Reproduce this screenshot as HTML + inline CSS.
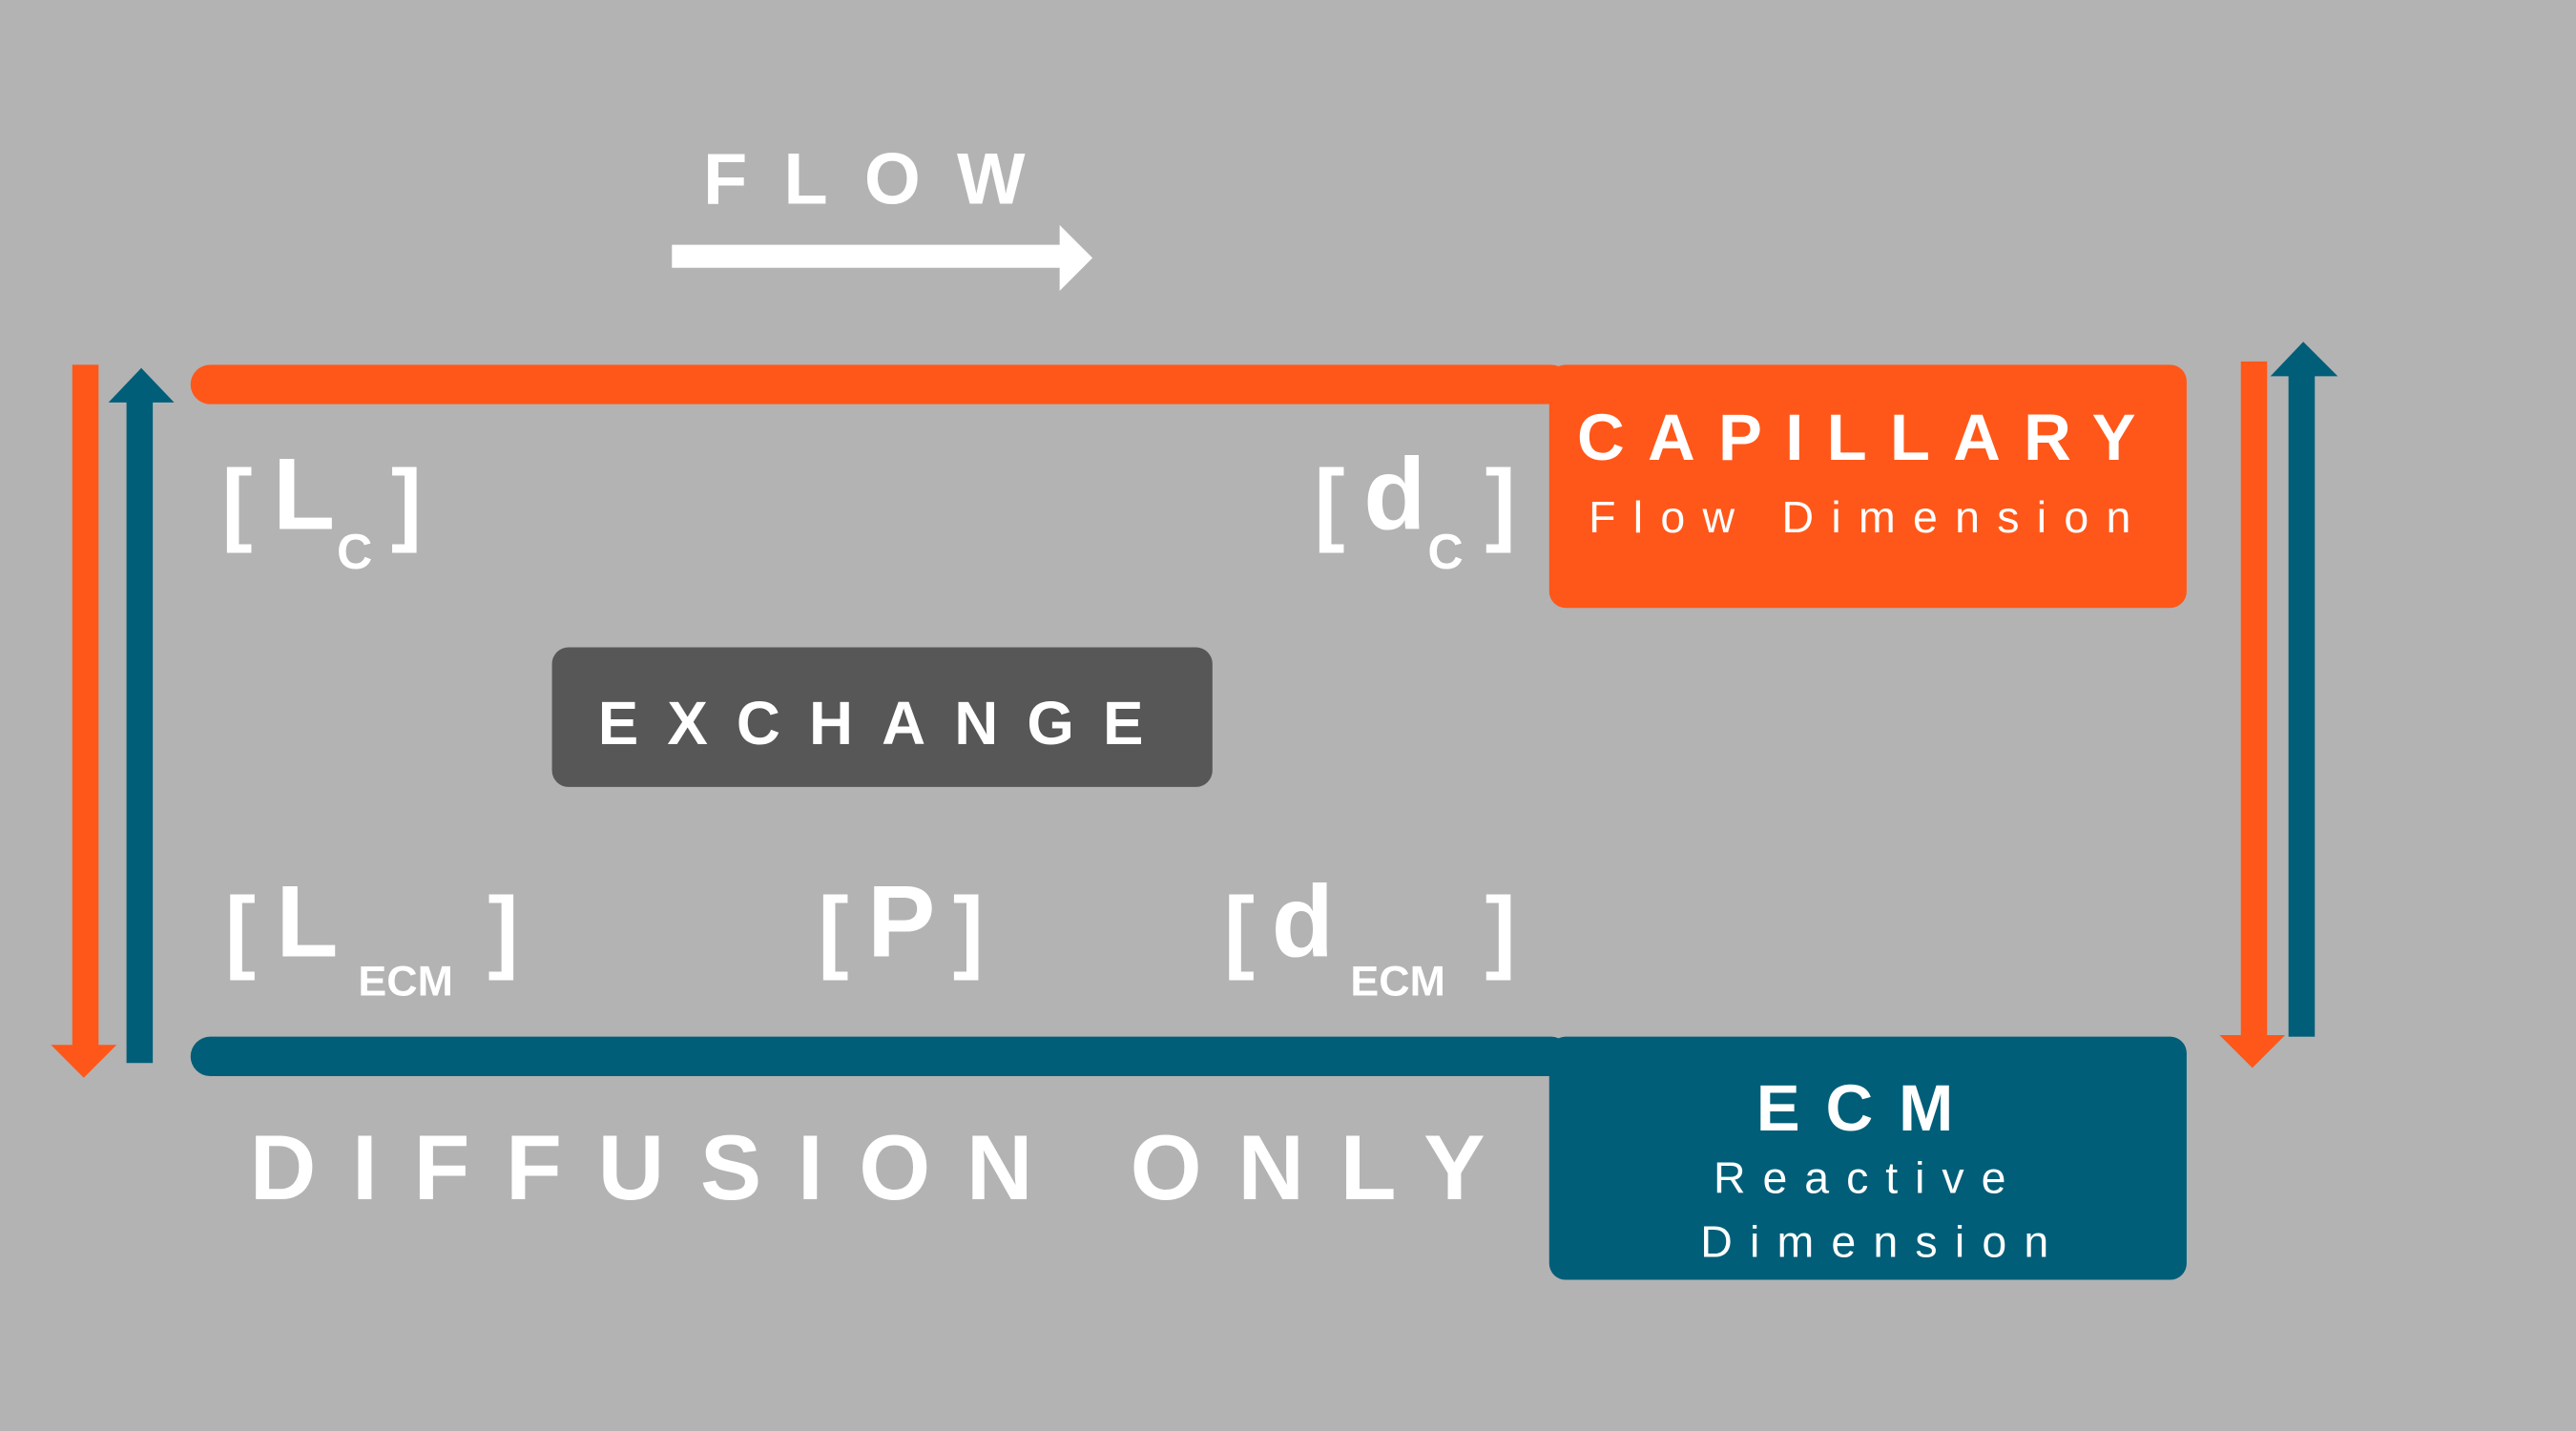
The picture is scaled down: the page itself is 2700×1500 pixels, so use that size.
<!DOCTYPE html>
<html><head><meta charset="utf-8"><style>
html,body{margin:0;padding:0;background:#b3b3b3;overflow:hidden}
svg{display:block}
text{font-family:"Liberation Sans",Arial,sans-serif;fill:#fff}
.b{font-weight:bold}
</style></head><body>
<svg width="2700" height="1500" viewBox="0 0 1568 871" preserveAspectRatio="none" xmlns="http://www.w3.org/2000/svg">
<rect width="1568" height="871" fill="#b3b3b3"/>
<!-- FLOW -->
<text x="428" y="124" class="b" font-size="44" textLength="196" lengthAdjust="spacing">FLOW</text>
<rect x="409" y="149" width="238" height="14" fill="#fff"/>
<polygon points="645,137 665,157 645,177" fill="#fff"/>
<!-- bars -->
<rect x="116" y="222" width="840" height="24" rx="12" fill="#ff5719"/>
<rect x="116" y="631" width="840" height="24" rx="12" fill="#005e78"/>
<!-- capillary box -->
<rect x="943" y="222" width="388" height="148" rx="10" fill="#ff5719"/>
<text x="960" y="280" class="b" font-size="40" textLength="340" lengthAdjust="spacing">CAPILLARY</text>
<text x="967" y="324" font-size="27" textLength="330" lengthAdjust="spacing">Flow Dimension</text>
<!-- ECM box -->
<rect x="943" y="631" width="388" height="148" rx="10" fill="#005e78"/>
<text x="1069" y="688" class="b" font-size="40" textLength="120" lengthAdjust="spacing">ECM</text>
<text x="1043" y="726" font-size="27" textLength="178" lengthAdjust="spacing">Reactive</text>
<text x="1035" y="765" font-size="27" textLength="212" lengthAdjust="spacing">Dimension</text>
<!-- exchange -->
<rect x="336" y="394" width="402" height="85" rx="10" fill="#575757"/>
<text x="364" y="453" class="b" font-size="37" textLength="332" lengthAdjust="spacing">EXCHANGE</text>
<!-- labels -->
<g class="b" font-size="62">
<text x="135" y="325" font-size="56" class="b">[</text><text x="166" y="322" class="b">L</text><text x="238" y="325" font-size="56" class="b">]</text>
<text x="800" y="325" font-size="56" class="b">[</text><text x="830" y="322" class="b">d</text><text x="904" y="325" font-size="56" class="b">]</text>
<text x="137" y="585" font-size="56" class="b">[</text><text x="168" y="582" class="b">L</text><text x="297" y="585" font-size="56" class="b">]</text>
<text x="498" y="585" font-size="56" class="b">[</text><text x="528" y="582" class="b">P</text><text x="580" y="585" font-size="56" class="b">]</text>
<text x="745" y="585" font-size="56" class="b">[</text><text x="774" y="582" class="b">d</text><text x="904" y="585" font-size="56" class="b">]</text>
</g>
<text x="205" y="346" class="b" font-size="30">C</text>
<text x="869" y="346" class="b" font-size="30">C</text>
<text x="218" y="606" class="b" font-size="26">ECM</text>
<text x="822" y="606" class="b" font-size="26">ECM</text>
<!-- diffusion only -->
<text x="152" y="730" class="b" font-size="56" textLength="752" lengthAdjust="spacing">DIFFUSION ONLY</text>
<!-- left arrows -->
<rect x="44" y="222" width="16" height="418" fill="#ff5719"/>
<polygon points="31,636 71,636 51,656" fill="#ff5719"/>
<rect x="77" y="242" width="16" height="405" fill="#005e78"/>
<polygon points="66,245 106,245 86,224" fill="#005e78"/>
<!-- right arrows -->
<rect x="1364" y="220" width="16" height="413" fill="#ff5719"/>
<polygon points="1351,630 1391,630 1371,650" fill="#ff5719"/>
<rect x="1393" y="226" width="16" height="405" fill="#005e78"/>
<polygon points="1382,229 1423,229 1402,208" fill="#005e78"/>
</svg>
</body></html>
